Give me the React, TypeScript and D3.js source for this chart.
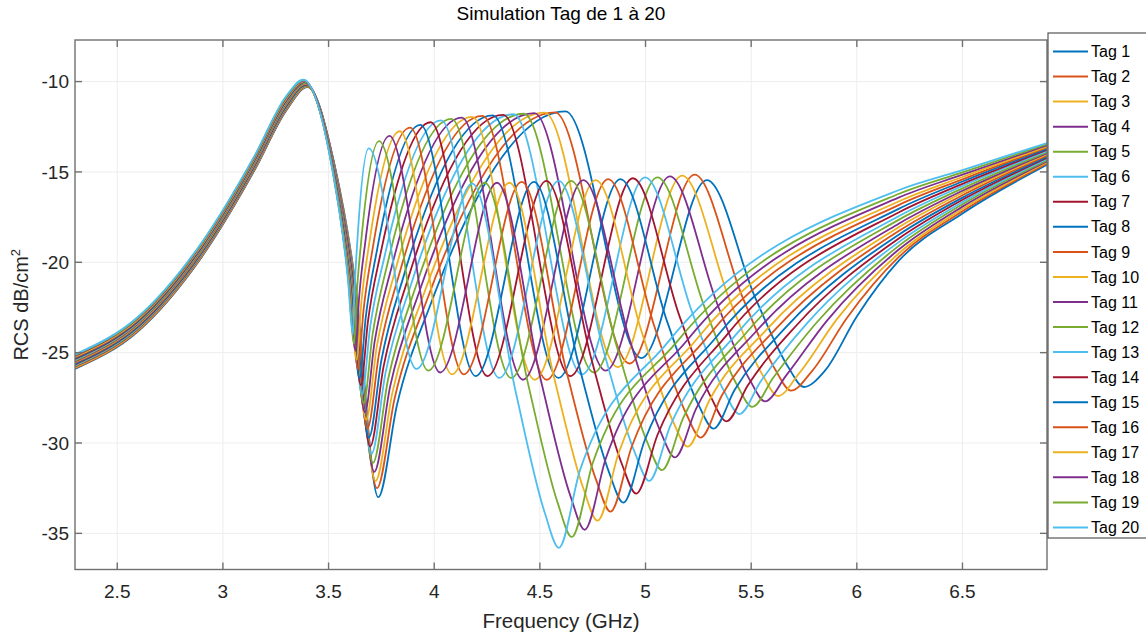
import React from 'react';
import * as d3 from 'd3';

// ---- chart data (index 0 = Tag 1 … index 19 = Tag 20) ----
const tagNames = ['Tag 1', 'Tag 2', 'Tag 3', 'Tag 4', 'Tag 5', 'Tag 6', 'Tag 7', 'Tag 8', 'Tag 9', 'Tag 10',
  'Tag 11', 'Tag 12', 'Tag 13', 'Tag 14', 'Tag 15', 'Tag 16', 'Tag 17', 'Tag 18', 'Tag 19', 'Tag 20'];

const xTicks = [2.5, 3, 3.5, 4, 4.5, 5, 5.5, 6, 6.5];
const xTickLabels = ['2.5', '3', '3.5', '4', '4.5', '5', '5.5', '6', '6.5'];
const yTicks = [-35, -30, -25, -20, -15, -10];
const yTickLabels = ['-35', '-30', '-25', '-20', '-15', '-10'];

// common low-frequency rise (GHz, dB) and per-tag offset of that band
const riseFreq = [2.3, 2.6, 2.9, 3.15, 3.3];
const riseDb = [-25.5, -23.4, -19.3, -14.5, -11.2];
const bandOffset = [-0.40, -0.36, -0.32, -0.27, -0.23, -0.19, -0.15, -0.11, -0.06, -0.02,
  0.02, 0.06, 0.11, 0.15, 0.19, 0.23, 0.27, 0.32, 0.36, 0.40];

// first resonance peak
const peak0Freq = [3.400, 3.399, 3.398, 3.397, 3.396, 3.395, 3.394, 3.393, 3.392, 3.391,
  3.389, 3.388, 3.387, 3.386, 3.385, 3.384, 3.383, 3.382, 3.381, 3.380];
const peak0Db = [-10.30, -10.28, -10.26, -10.24, -10.22, -10.20, -10.18, -10.16, -10.13, -10.11,
  -10.09, -10.07, -10.05, -10.03, -10.01, -9.99, -9.97, -9.94, -9.92, -9.90];

// falling edge after the first peak, crossing -14.7 dB and -21 dB
const fallDb = [-14.7, -21.0];
const fallFreqA = [3.530, 3.529, 3.528, 3.528, 3.527, 3.526, 3.525, 3.524, 3.524, 3.523,
  3.522, 3.521, 3.521, 3.520, 3.519, 3.518, 3.517, 3.517, 3.516, 3.515];
const fallFreqB = [3.625, 3.623, 3.622, 3.620, 3.618, 3.616, 3.615, 3.613, 3.611, 3.609,
  3.608, 3.606, 3.604, 3.602, 3.601, 3.599, 3.597, 3.595, 3.594, 3.592];

// first notch
const notch1Freq = [3.735, 3.729, 3.722, 3.716, 3.710, 3.703, 3.697, 3.691, 3.684, 3.678,
  3.672, 3.666, 3.659, 3.653, 3.647, 3.640, 3.634, 3.628, 3.621, 3.615];
const notch1Db = [-33.0, -32.5, -32.1, -31.6, -31.1, -30.6, -30.2, -29.7, -29.2, -28.7,
  -28.3, -27.8, -27.3, -26.8, -26.4, -25.9, -25.4, -24.9, -24.5, -24.0];

// rising edge towards peak A
const riseAFreq1 = [3.824, 3.813, 3.802, 3.792, 3.782, 3.770, 3.760, 3.750, 3.739, 3.728,
  3.718, 3.708, 3.696, 3.686, 3.676, 3.665, 3.654, 3.644, 3.633, 3.623];
const riseADb1 = [-27.88, -27.51, -27.21, -26.84, -26.46, -26.09, -25.79, -25.42, -25.05, -24.68,
  -24.39, -24.02, -23.66, -23.31, -23.04, -22.70, -22.36, -22.04, -21.81, -21.53];
const riseAFreq2 = [3.983, 3.965, 3.946, 3.928, 3.910, 3.891, 3.873, 3.855, 3.837, 3.819,
  3.801, 3.782, 3.764, 3.746, 3.728, 3.709, 3.691, 3.673, 3.654, 3.636];
const riseADb2 = [-22.32, -22.10, -21.91, -21.67, -21.44, -21.20, -21.02, -20.78, -20.55, -20.32,
  -20.15, -19.93, -19.72, -19.52, -19.40, -19.22, -19.07, -18.95, -18.90, -18.85];

// peak A
const peakAFreq = [4.621, 4.572, 4.523, 4.474, 4.425, 4.376, 4.327, 4.278, 4.229, 4.180,
  4.131, 4.082, 4.033, 3.984, 3.935, 3.886, 3.837, 3.788, 3.739, 3.690];
const peakADb = [-11.65, -11.70, -11.72, -11.75, -11.78, -11.81, -11.84, -11.87, -11.90, -11.95,
  -12.00, -12.07, -12.15, -12.25, -12.40, -12.55, -12.75, -13.00, -13.30, -13.70];

// trough between peak A and peak B
const troughFreq = [4.980, 4.924, 4.868, 4.812, 4.756, 4.700, 4.644, 4.588, 4.532, 4.476,
  4.420, 4.364, 4.308, 4.252, 4.196, 4.140, 4.084, 4.028, 3.972, 3.916];
const troughDb = [-25.3, -25.6, -25.8, -26.0, -26.1, -26.2, -26.3, -26.4, -26.5, -26.5,
  -26.5, -26.4, -26.4, -26.3, -26.3, -26.2, -26.2, -26.1, -26.0, -25.9];

// peak B
const peakBFreq = [5.290, 5.232, 5.173, 5.115, 5.056, 4.998, 4.940, 4.881, 4.823, 4.764,
  4.706, 4.648, 4.589, 4.531, 4.472, 4.414, 4.356, 4.297, 4.239, 4.180];
const peakBDb = [-15.45, -15.15, -15.2, -15.25, -15.3, -15.3, -15.35, -15.4, -15.4, -15.45,
  -15.45, -15.5, -15.5, -15.5, -15.55, -15.55, -15.6, -15.6, -15.6, -15.65];

// falling edge into the deep notch
const fallDFreq1 = [5.520, 5.460, 5.400, 5.341, 5.281, 5.221, 5.162, 5.102, 5.042, 4.982,
  4.923, 4.863, 4.803, 4.744, 4.684, 4.624, 4.565, 4.505, 4.445, 4.385];
const fallDDb1 = [-21.98, -21.96, -22.15, -22.35, -22.54, -22.77, -23.02, -23.27, -23.55, -23.86,
  -24.20, -24.62, -24.96, -25.36, -25.67, -25.95, -26.26, -26.54, -26.77, -27.14];
const fallDFreq2 = [5.676, 5.615, 5.554, 5.494, 5.433, 5.373, 5.312, 5.251, 5.191, 5.130,
  5.070, 5.009, 4.949, 4.888, 4.827, 4.767, 4.706, 4.646, 4.585, 4.524];
const fallDDb2 = [-25.81, -25.96, -26.24, -26.52, -26.79, -27.16, -27.52, -27.89, -28.34, -28.80,
  -29.34, -29.98, -30.52, -31.16, -31.61, -32.07, -32.52, -32.98, -33.34, -33.89];

// deep notch
const notchDFreq = [5.749, 5.688, 5.627, 5.566, 5.505, 5.444, 5.383, 5.322, 5.261, 5.200,
  5.139, 5.078, 5.017, 4.956, 4.895, 4.834, 4.773, 4.712, 4.651, 4.590];
const notchDDb = [-26.9, -27.1, -27.4, -27.7, -28.0, -28.4, -28.8, -29.2, -29.7, -30.2,
  -30.8, -31.5, -32.1, -32.8, -33.3, -33.8, -34.3, -34.8, -35.2, -35.8];

// recovery after the deep notch
const recFreq1 = [5.849, 5.788, 5.727, 5.666, 5.605, 5.544, 5.483, 5.422, 5.361, 5.300,
  5.239, 5.178, 5.117, 5.056, 4.995, 4.934, 4.873, 4.812, 4.751, 4.690];
const recDb1 = [-26.00, -26.02, -26.14, -26.26, -26.38, -26.61, -26.83, -27.05, -27.37, -27.69,
  -28.11, -28.63, -29.05, -29.57, -29.89, -30.22, -30.54, -30.86, -31.08, -31.50];
const recFreq2 = [6.000, 5.953, 5.905, 5.858, 5.811, 5.763, 5.716, 5.668, 5.621, 5.574,
  5.526, 5.479, 5.432, 5.384, 5.337, 5.289, 5.242, 5.195, 5.147, 5.100];
const recDb2 = [-23.00, -23.08, -23.16, -23.24, -23.32, -23.39, -23.47, -23.55, -23.63, -23.71,
  -23.79, -23.87, -23.95, -24.03, -24.11, -24.18, -24.26, -24.34, -24.42, -24.50];

// high-frequency tail at fixed frequencies
const tailFreq = [6.2, 6.5, 6.9];
const tailDb62 = [-19.90, -19.69, -19.49, -19.28, -19.08, -18.87, -18.67, -18.46, -18.26, -18.05,
  -17.85, -17.64, -17.44, -17.23, -17.03, -16.82, -16.62, -16.41, -16.21, -16.00];
const tailDb65 = [-17.30, -17.17, -17.05, -16.92, -16.79, -16.67, -16.54, -16.42, -16.29, -16.16,
  -16.04, -15.91, -15.78, -15.66, -15.53, -15.41, -15.28, -15.15, -15.03, -14.90];
const tailDb69 = [-14.60, -14.54, -14.47, -14.41, -14.35, -14.28, -14.22, -14.16, -14.09, -14.03,
  -13.97, -13.91, -13.84, -13.78, -13.72, -13.65, -13.59, -13.53, -13.46, -13.40];

// MATLAB default line colour order
const colorOrder = ['#0072BD', '#D95319', '#EDB120', '#7E2F8E', '#77AC30', '#4DBEEE', '#A2142F'];

// ---- layout ----
const W = 1146;
const H = 633;
const plot = { left: 75, right: 1047, top: 40, bottom: 569.5 };
const font = '"Liberation Sans", Arial, Helvetica, sans-serif';
const ink = '#262626';

type Pt = [number, number];

function tagPoints(k: number): Pt[] {
  const tails = [tailDb62[k], tailDb65[k], tailDb69[k]];
  return [
    ...riseFreq.map((f, j) => [f, riseDb[j] + bandOffset[k]] as Pt),
    [peak0Freq[k], peak0Db[k]],
    [fallFreqA[k], fallDb[0]],
    [fallFreqB[k], fallDb[1]],
    [notch1Freq[k], notch1Db[k]],
    [riseAFreq1[k], riseADb1[k]],
    [riseAFreq2[k], riseADb2[k]],
    [peakAFreq[k], peakADb[k]],
    [troughFreq[k], troughDb[k]],
    [peakBFreq[k], peakBDb[k]],
    [fallDFreq1[k], fallDDb1[k]],
    [fallDFreq2[k], fallDDb2[k]],
    [notchDFreq[k], notchDDb[k]],
    [recFreq1[k], recDb1[k]],
    [recFreq2[k], recDb2[k]],
    ...tailFreq.map((f, j) => [f, tails[j]] as Pt),
  ];
}

export default function App() {
  const x = d3.scaleLinear().domain([2.3, 6.9]).range([plot.left, plot.right]);
  const y = d3.scaleLinear().domain([-37, -7.7]).range([plot.bottom, plot.top]);
  const line = d3
    .line<Pt>()
    .x((d) => x(d[0]))
    .y((d) => y(d[1]))
    .curve(d3.curveMonotoneX);

  const tick = 7;
  const legend = { x: 1048, y: 33, w: 110, h: 505, first: 51.5, step: 25.05 };

  return (
    <svg
      width={W}
      height={H}
      style={{ position: 'absolute', left: 0, top: 0, background: '#fff' }}
      fontFamily={font}
    >
      <defs>
        <clipPath id="plot-area">
          <rect x={plot.left} y={plot.top} width={plot.right - plot.left} height={plot.bottom - plot.top} />
        </clipPath>
      </defs>
      <rect x={0} y={0} width={W} height={H} fill="#fff" />

      {/* grid */}
      <g stroke="#ededed" strokeWidth={1}>
        {xTicks.map((t) => (
          <line key={`gx${t}`} x1={x(t)} x2={x(t)} y1={plot.top} y2={plot.bottom} />
        ))}
        {yTicks.map((t) => (
          <line key={`gy${t}`} x1={plot.left} x2={plot.right} y1={y(t)} y2={y(t)} />
        ))}
      </g>

      {/* curves */}
      <g clipPath="url(#plot-area)" fill="none" strokeWidth={1.8} strokeLinejoin="round">
        {tagNames.map((name, k) => (
          <path key={name} d={line(tagPoints(k)) || ''} stroke={colorOrder[k % colorOrder.length]} />
        ))}
      </g>

      {/* box and ticks */}
      <g stroke="#707070" strokeWidth={1.4} fill="none">
        <rect x={plot.left} y={plot.top} width={plot.right - plot.left} height={plot.bottom - plot.top} />
        {xTicks.map((t) => (
          <g key={`tx${t}`}>
            <line x1={x(t)} x2={x(t)} y1={plot.bottom} y2={plot.bottom - tick} />
            <line x1={x(t)} x2={x(t)} y1={plot.top} y2={plot.top + tick} />
          </g>
        ))}
        {yTicks.map((t) => (
          <g key={`ty${t}`}>
            <line x1={plot.left} x2={plot.left + tick} y1={y(t)} y2={y(t)} />
            <line x1={plot.right} x2={plot.right - tick} y1={y(t)} y2={y(t)} />
          </g>
        ))}
      </g>

      {/* tick labels */}
      <g fill={ink} fontSize={19}>
        {xTicks.map((t, i) => (
          <text key={`lx${t}`} x={x(t)} y={plot.bottom + 28} textAnchor="middle">
            {xTickLabels[i]}
          </text>
        ))}
        {yTicks.map((t, i) => (
          <text key={`ly${t}`} x={plot.left - 6} y={y(t)} dy="0.35em" textAnchor="end">
            {yTickLabels[i]}
          </text>
        ))}
      </g>

      {/* titles */}
      <text x={(plot.left + plot.right) / 2} y={20} textAnchor="middle" fontSize={19} fill="#000">
        Simulation Tag de 1 à 20
      </text>
      <text x={(plot.left + plot.right) / 2} y={628} textAnchor="middle" fontSize={20.5} fill={ink}>
        Frequency (GHz)
      </text>
      <text transform={`translate(28, ${(plot.top + plot.bottom) / 2}) rotate(-90)`} textAnchor="middle" fontSize={20} fill={ink}>
        RCS dB/cm<tspan dy={-8} fontSize={13}>2</tspan>
      </text>

      {/* legend */}
      <g>
        <rect x={legend.x} y={legend.y} width={legend.w} height={legend.h} fill="#fff" stroke="#555" strokeWidth={1.2} />
        {tagNames.map((name, k) => {
          const cy = legend.first + k * legend.step;
          return (
            <g key={`lg${name}`}>
              <line x1={1053} x2={1088} y1={cy} y2={cy} stroke={colorOrder[k % colorOrder.length]} strokeWidth={2} />
              <text x={1091} y={cy} dy="0.35em" fontSize={16} fill="#000">
                {name}
              </text>
            </g>
          );
        })}
      </g>
    </svg>
  );
}
